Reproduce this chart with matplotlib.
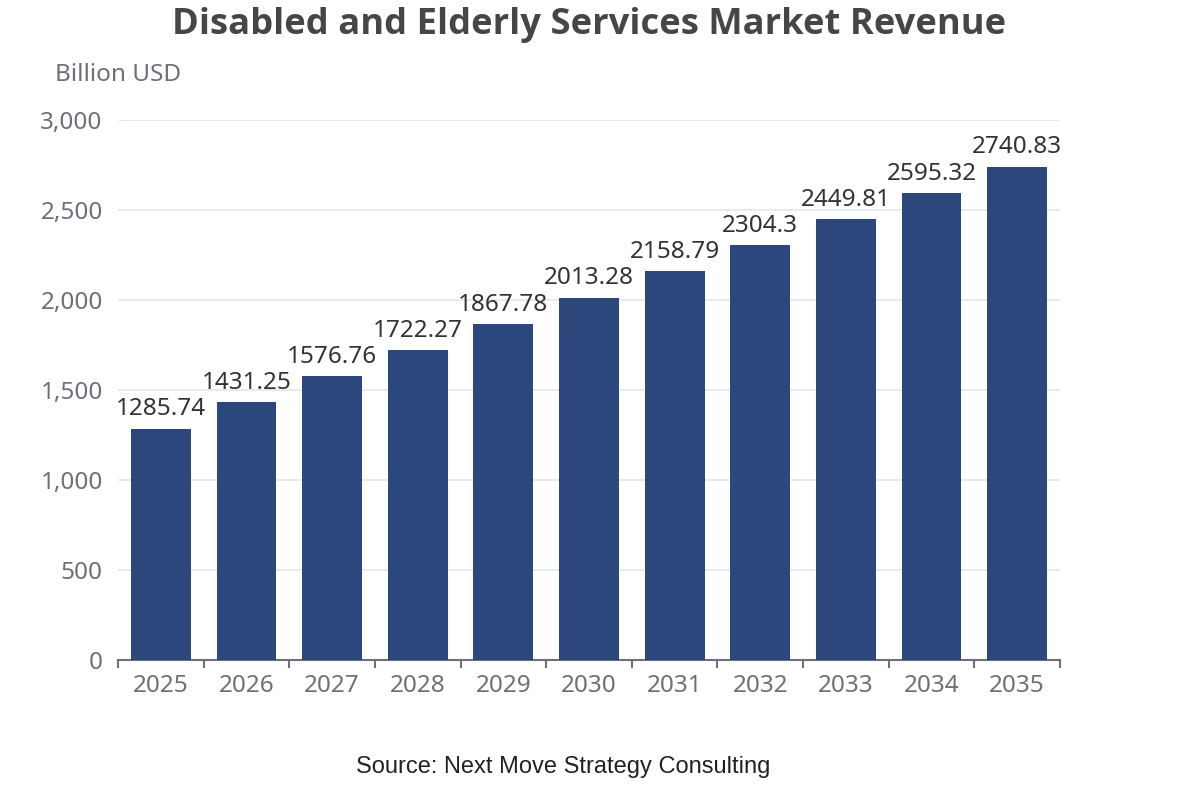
import numpy as np
import matplotlib.pyplot as plt

# Chart data
years = ['2025', '2026', '2027', '2028', '2029', '2030',
         '2031', '2032', '2033', '2034', '2035']
revenue = [1285.74, 1431.25, 1576.76, 1722.27, 1867.78, 2013.28,
           2158.79, 2304.3, 2449.81, 2595.32, 2740.83]
y_ticks = [0, 500, 1000, 1500, 2000, 2500, 3000]

plt.rcParams['font.family'] = ['Noto Sans', 'DejaVu Sans']

fig = plt.figure(figsize=(11.78, 8), dpi=100)
ax = fig.add_axes([0.1002, 0.175, 0.7996, 0.675])

x = np.arange(len(years))
bars = ax.bar(x, revenue, width=0.7, color='#2b477b', zorder=3)

# value labels above bars
for xi, v in zip(x, revenue):
    ax.text(xi, v + 40, f'{v:g}', ha='center', va='bottom',
            fontsize=17.5, color='#333333', zorder=4)

ax.set_xlim(-0.5, len(years) - 0.5)
ax.set_ylim(0, 3000)
ax.set_yticks(y_ticks)
ax.set_yticklabels([f'{t:,}' for t in y_ticks])
ax.set_xticks(x)
ax.set_xticklabels(years)

# ticks at category boundaries
ax.set_xticks(np.arange(-0.5, len(years)), minor=True)
ax.tick_params(axis='x', which='major', length=0, pad=10,
               labelsize=17.5, labelcolor='#6e7079')
ax.tick_params(axis='x', which='minor', length=6, width=1.5,
               color='#6e7079', direction='out')
ax.tick_params(axis='y', length=0, pad=11, labelsize=17.5,
               labelcolor='#6e7079')

ax.grid(axis='y', color='#e0e6f1', linewidth=1.2, zorder=0)
for side in ['top', 'right', 'left']:
    ax.spines[side].set_visible(False)
ax.spines['bottom'].set_color('#6e7079')
ax.spines['bottom'].set_linewidth(1.5)

fig.text(0.5, 0.969, 'Disabled and Elderly Services Market Revenue',
         ha='center', va='center', fontsize=26.2, fontweight='bold',
         color='#464646', family=['Open Sans', 'DejaVu Sans'])
fig.text(0.047, 0.906, 'Billion USD', ha='left', va='center',
         fontsize=17.5, color='#6e7079')
fig.text(0.478, 0.041, 'Source: Next Move Strategy Consulting',
         ha='center', va='center', fontsize=17, color='#222222',
         family=['Liberation Sans', 'DejaVu Sans'])

fig.savefig('out.png', dpi=100)
